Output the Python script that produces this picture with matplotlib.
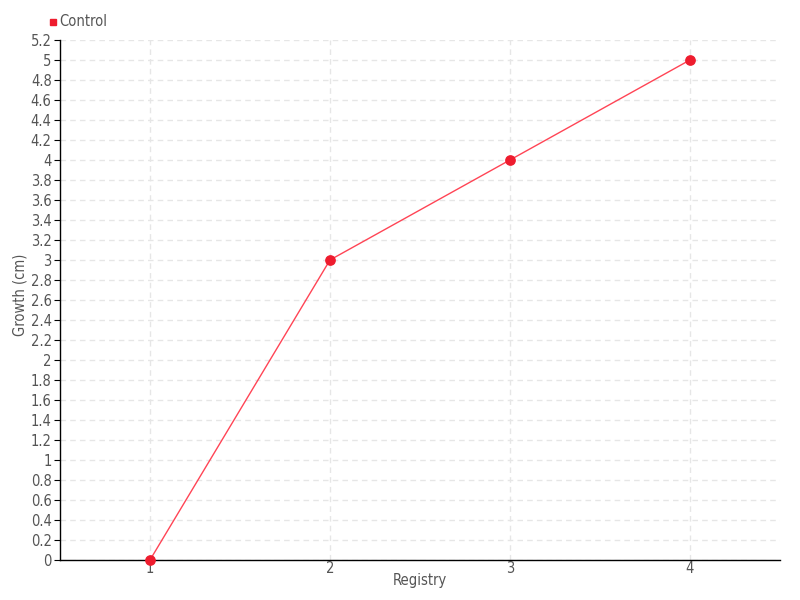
import matplotlib
matplotlib.use("Agg")
import matplotlib.pyplot as plt
import numpy as np

plt.rcParams['font.family'] = ['DejaVu Sans']
plt.rcParams['font.stretch'] = 'condensed'

x_labels = ["1", "2", "3", "4"]
x_vals = [1, 2, 3, 4]
growth = [0, 3, 4, 5]
series_name = "Control"

fig = plt.figure(figsize=(8, 6), dpi=100)
ax = fig.add_axes([0.075, 0.0667, 0.9, 0.8667])

ax.plot(x_vals, growth, color="#ff4455", lw=1, zorder=3)
ax.scatter(x_vals, growth, s=45, color="#ee1c2e", zorder=4, clip_on=False)

ax.set_xlim(0.5, 4.5)
ax.set_ylim(0, 5.2)
yt = np.round(np.arange(0, 5.21, 0.2), 1)
ax.set_yticks(yt)
ax.set_yticklabels([("%g" % v) for v in yt])
ax.set_xticks(x_vals)
ax.set_xticklabels(x_labels)

ax.grid(True, color="#e6e6e6", linestyle=(0, (4, 3)), lw=1)
ax.set_axisbelow(True)
for s in ["top", "right"]:
    ax.spines[s].set_visible(False)
for s in ["left", "bottom"]:
    ax.spines[s].set_color("black")
    ax.spines[s].set_linewidth(1)

ax.tick_params(axis="y", direction="out", length=4, color="black", labelcolor="#555555", labelsize=10.5, pad=2)
ax.tick_params(axis="x", direction="out", length=0, color="#555555", labelcolor="#555555", labelsize=10.5, pad=1)

ax.set_xlabel("Registry", color="#555555", fontsize=10.5, va="center")
ax.set_ylabel("Growth (cm)", color="#555555", fontsize=10.5, va="center")
ax.xaxis.set_label_coords(0.5, -21/520)
ax.yaxis.set_label_coords(-40/720, 0.51)

fig.patches.append(plt.Rectangle((50/800, 1-25/600), 6/800, 6/600, transform=fig.transFigure, color="#ee1c2e"))
fig.text(59/800, 1-22/600, series_name, color="#555555", fontsize=10.5, va="center", ha="left")

fig.savefig("out.png", dpi=100)
